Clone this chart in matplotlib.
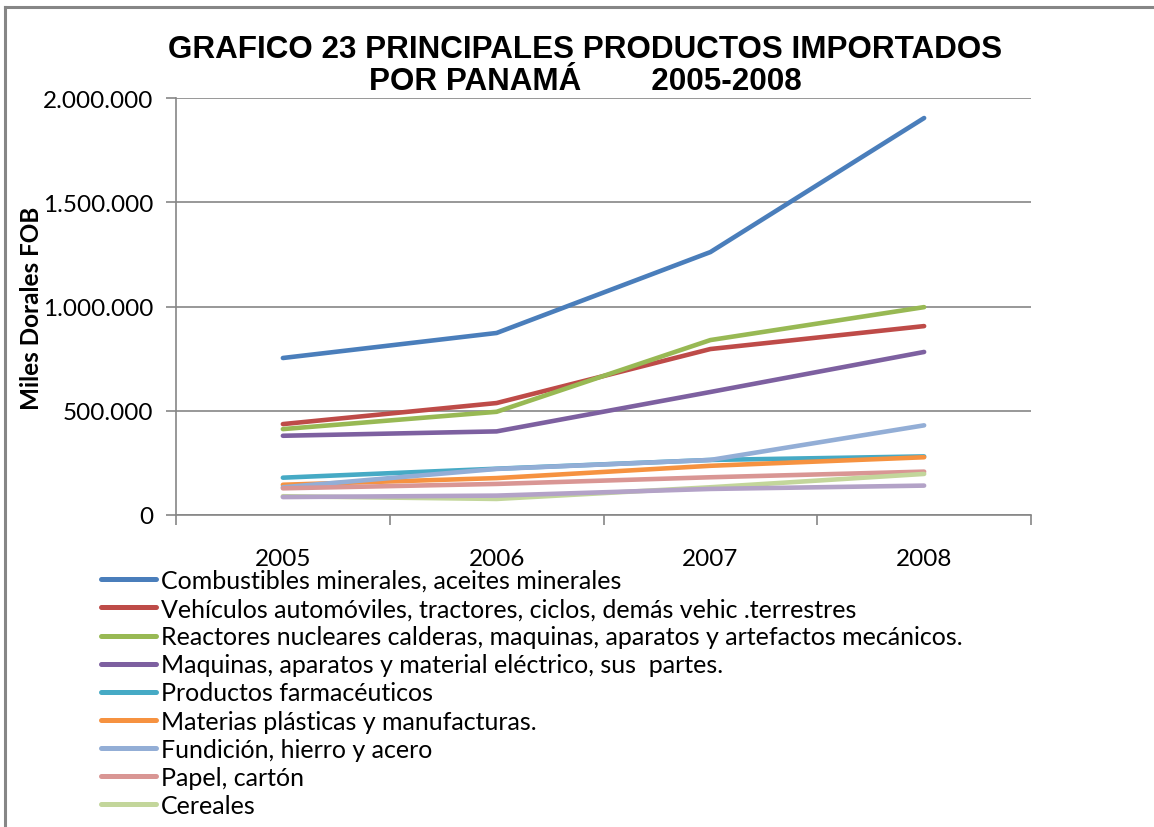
import matplotlib
matplotlib.use("Agg")
import matplotlib.pyplot as plt
from matplotlib.lines import Line2D
from matplotlib.ticker import FuncFormatter, FixedLocator

years = ["2005", "2006", "2007", "2008"]

combustibles = [753000, 873000, 1261000, 1904000]
vehiculos = [436000, 537000, 796000, 906000]
reactores = [412000, 495000, 839000, 997000]
maquinas = [380000, 401000, 590000, 782000]
farmaceuticos = [179000, 222000, 264000, 281000]
plasticas = [145000, 177000, 236000, 277000]
fundicion = [133000, 221000, 264000, 430000]
papel = [128000, 149000, 181000, 208000]
cereales = [90000, 77000, 133000, 197000]
otros = [86000, 93000, 125000, 141000]

labels = [
    "Combustibles minerales, aceites minerales",
    "Vehículos automóviles, tractores, ciclos, demás vehic .terrestres",
    "Reactores nucleares calderas, maquinas, aparatos y artefactos mecánicos.",
    "Maquinas, aparatos y material eléctrico, sus  partes.",
    "Productos farmacéuticos",
    "Materias plásticas y manufacturas.",
    "Fundición, hierro y acero",
    "Papel, cartón",
    "Cereales",
    "_nolegend_",
]
series = [combustibles, vehiculos, reactores, maquinas, farmaceuticos,
          plasticas, fundicion, papel, cereales, otros]
colors = ["#4A7EBB", "#BE4B48", "#98B954", "#7D60A0", "#46AAC5",
          "#F69240", "#93AED6", "#D99694", "#C3D69B", "#B3A2C7"]

W, H = 1154, 828
fig = plt.figure(figsize=(W / 100, H / 100), dpi=100)
ax = fig.add_axes([176 / W, 1 - 516 / H, (1031 - 176) / W, (516 - 99) / H])

x = list(range(len(years)))
for vals, lab, col in zip(series, labels, colors):
    ax.plot(x, vals, color=col, lw=3.3, label=lab, solid_capstyle="round")

grid_c = "#868686"
ax.set_xlim(-0.5, len(years) - 0.5)
ax.set_ylim(0, 2000000)
ax.set_yticks([0, 500000, 1000000, 1500000, 2000000])
ax.yaxis.set_major_formatter(FuncFormatter(lambda v, p: f"{int(v):,}".replace(",", ".")))
ax.grid(axis="y", color=grid_c, lw=1.2)
ax.set_axisbelow(True)
ax.set_xticks(x)
ax.set_xticklabels(years)
ax.xaxis.set_minor_locator(FixedLocator([i - 0.5 for i in range(len(years) + 1)]))
ax.tick_params(axis="x", which="major", length=0, pad=24)
ax.tick_params(axis="x", which="minor", length=7, width=1.2, color=grid_c, direction="out")
ax.tick_params(axis="y", length=7, width=1.2, color=grid_c, pad=9.5)
for s in ["top", "right"]:
    ax.spines[s].set_visible(False)
for s in ["left", "bottom"]:
    ax.spines[s].set_color(grid_c)
    ax.spines[s].set_linewidth(1.2)

for lab in ax.get_xticklabels() + ax.get_yticklabels():
    lab.set_fontfamily("Lato")
    lab.set_fontsize(17.5)

ax.set_ylabel("Miles Dorales FOB", fontfamily="Lato", fontweight="bold", fontsize=17.5)
ax.yaxis.set_label_coords(43 / W, 1 - 308.5 / H, transform=fig.transFigure)

fig.text(585 / W, 1 - 66 / H,
         "GRAFICO 23 PRINCIPALES PRODUCTOS IMPORTADOS\nPOR PANAMÁ        2005-2008",
         ha="center", va="center", fontfamily="Liberation Sans", fontweight="bold",
         fontsize=22.6, linespacing=1.08)

handles, labs = ax.get_legend_handles_labels()
leg = fig.legend(handles, labs, loc="upper left", bbox_to_anchor=(101 / W, 1 - 570 / H),
                 frameon=False, prop={"family": "Lato", "size": 18},
                 handlelength=2.2, handletextpad=0.2, labelspacing=0.205,
                 borderpad=0, borderaxespad=0)
for ln in leg.get_lines():
    ln.set_linewidth(3.6)

fig.add_artist(Line2D([5 / W, 1], [1 - 8 / H, 1 - 8 / H], transform=fig.transFigure,
                      color=grid_c, lw=2.2))
fig.add_artist(Line2D([5 / W, 5 / W], [0, 1 - 8 / H], transform=fig.transFigure,
                      color=grid_c, lw=2.2))

fig.savefig("out.png", dpi=100)
